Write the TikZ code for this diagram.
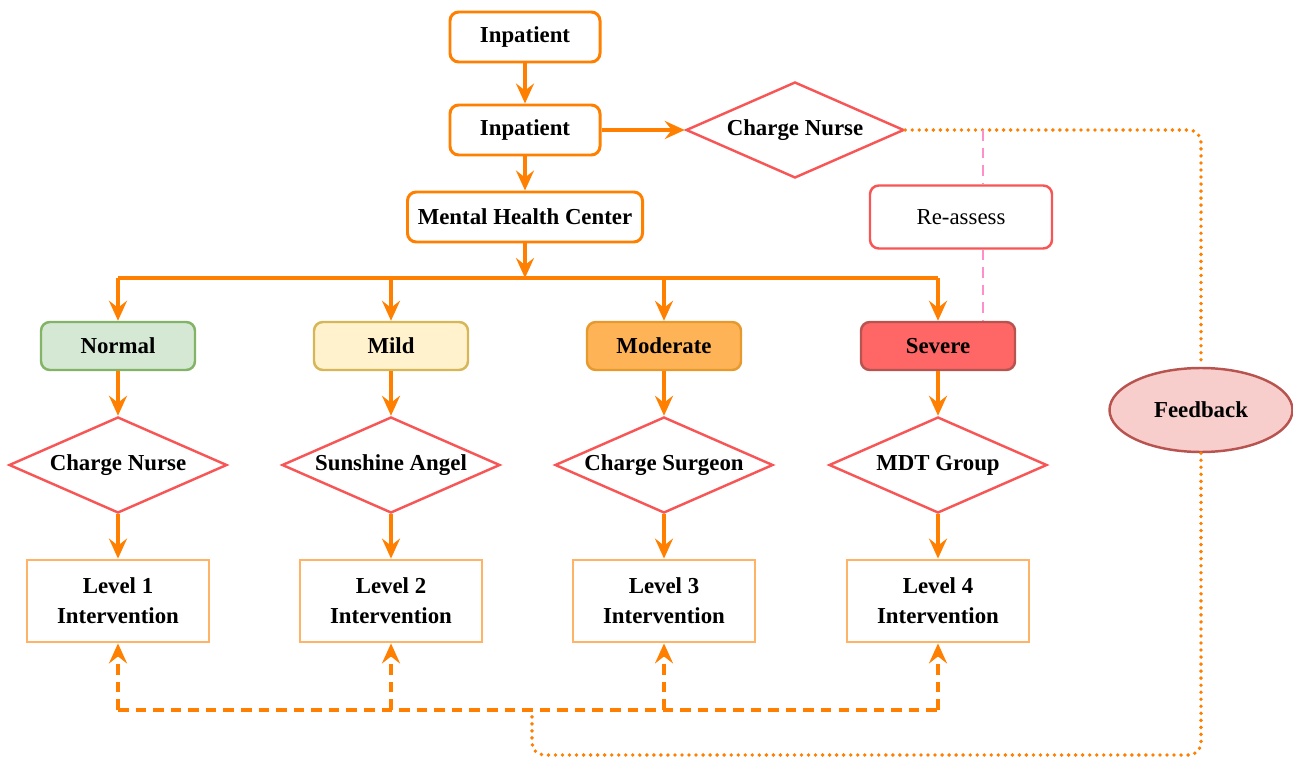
\documentclass[tikz,border=0pt]{standalone}
\usepackage{fontspec}
\setmainfont{Liberation Serif}
\usepackage{xcolor}
\usepackage{tikz}
\usetikzlibrary{arrows.meta,positioning,shapes.geometric}

\definecolor{orng}{HTML}{FF8000}
\definecolor{lvlorng}{HTML}{FFB366}
\definecolor{dred}{HTML}{F85656}
\definecolor{grnfill}{HTML}{D5E8D4}
\definecolor{grnline}{HTML}{82B366}
\definecolor{ylwfill}{HTML}{FFF2CC}
\definecolor{ylwline}{HTML}{D6B656}
\definecolor{modfill}{HTML}{FFB357}
\definecolor{modline}{HTML}{E69A2E}
\definecolor{sevfill}{HTML}{FF6666}
\definecolor{sevline}{HTML}{B85450}
\definecolor{fbfill}{HTML}{F8CECC}
\definecolor{pnkline}{HTML}{FF8FC8}

\begin{document}
\begin{tikzpicture}[
  font=\fontsize{13}{17}\selectfont\bfseries,
  box/.style={draw=orng,line width=1.7pt,rounded corners=5pt,align=center,minimum height=1cm,inner sep=2pt},
  sev/.style={draw,line width=1.4pt,rounded corners=5pt,align=center,minimum width=3.08cm,minimum height=0.96cm},
  dec/.style={diamond,aspect=2.2,draw=dred,line width=1.4pt,align=center,inner sep=0pt,minimum width=4.36cm,minimum height=1.92cm},
  lvl/.style={draw=lvlorng,line width=1.6pt,align=center,minimum width=3.64cm,minimum height=1.64cm},
  arr/.style={-{Stealth[length=4mm,width=3.6mm,inset=1.4mm]},draw=orng,line width=2pt},
  ln/.style={draw=orng,line width=2pt},
  ev/.style={arr,dash pattern=on 6pt off 4pt},
  dsh/.style={ln,dash pattern=on 6pt off 4pt},
  dot/.style={draw=orng,line width=2.2pt,line cap=round,dash pattern=on 0pt off 4pt,rounded corners=7pt},
  pnk/.style={draw=pnkline,line width=1.4pt,dash pattern=on 6pt off 4pt}]
\useasboundingbox (0,0) rectangle (25.86,-15.16);
% top of the chart
\node[box,minimum width=3cm]   (in1) at (10.5,-0.74)  {Inpatient};
\node[box,minimum width=3cm]   (in2) at (10.5,-2.6)   {Inpatient};
\node[box,minimum width=4.7cm] (mhc) at (10.5,-4.34)  {Mental Health Center};
\node[dec] (cn)  at (15.9,-2.6) {Charge Nurse};
\node[box,draw=dred,line width=1.4pt,minimum width=3.64cm,minimum height=1.26cm] (re) at (19.22,-4.34) {\mdseries Re-assess};
\node[ellipse,draw=sevline,fill=fbfill,line width=1.4pt,minimum width=3.66cm,minimum height=1.68cm] (fbk) at (24.02,-8.2) {Feedback};
% severity levels
\node[sev,draw=grnline,fill=grnfill] (nor) at (2.36,-6.92)  {Normal};
\node[sev,draw=ylwline,fill=ylwfill] (mld) at (7.82,-6.92)  {Mild};
\node[sev,draw=modline,fill=modfill] (mod) at (13.28,-6.92) {Moderate};
\node[sev,draw=sevline,fill=sevfill] (svr) at (18.76,-6.92) {Severe};
% responsible staff
\node[dec] (d1) at (2.36,-9.3)  {Charge Nurse};
\node[dec] (d2) at (7.82,-9.3)  {Sunshine Angel};
\node[dec] (d3) at (13.28,-9.3) {Charge Surgeon};
\node[dec] (d4) at (18.76,-9.3) {MDT Group};
% interventions
\node[lvl] (l1) at (2.36,-12.02)  {Level 1\\Intervention};
\node[lvl] (l2) at (7.82,-12.02)  {Level 2\\Intervention};
\node[lvl] (l3) at (13.28,-12.02) {Level 3\\Intervention};
\node[lvl] (l4) at (18.76,-12.02) {Level 4\\Intervention};
\coordinate (fork) at (10.5,-5.56);
\coordinate (dl)   at (2.36,-14.2);
\coordinate (dr)   at (18.76,-14.2);
\coordinate (join) at (10.64,-14.2);
\coordinate (bot)  at (10.64,-15.1);
\coordinate (pk)   at (19.66,-2.6);
% main flow (solid)
\draw[arr] (in1) -- (in2);
\draw[arr] (in2) -- (mhc);
\draw[arr] (in2) -- (cn);
\draw[arr] (mhc) -- (fork);
\draw[ln] (fork -| nor) -- (fork -| svr);
\draw[arr] (fork -| nor) -- (nor);
\draw[arr] (fork -| mld) -- (mld);
\draw[arr] (fork -| mod) -- (mod);
\draw[arr] (fork -| svr) -- (svr);
\draw[arr] (nor) -- (d1);
\draw[arr] (mld) -- (d2);
\draw[arr] (mod) -- (d3);
\draw[arr] (svr) -- (d4);
\draw[arr] (d1) -- (l1);
\draw[arr] (d2) -- (l2);
\draw[arr] (d3) -- (l3);
\draw[arr] (d4) -- (l4);
% return path (dashed) below the interventions
\draw[dsh] (dl) -- (dr);
\draw[ev] (dl) -- (l1);
\draw[ev] (dl -| l2) -- (l2);
\draw[ev] (dl -| l3) -- (l3);
\draw[ev] (dr) -- (l4);
% feedback loop (dotted) and re-assessment (pink)
\draw[dot] (cn.east) -| (fbk.north);
\draw[dot] (fbk.south) |- (bot) -- (join);
\draw[pnk] (pk) -- (pk |- re.north);
\draw[pnk] (pk |- re.south) -- (pk |- svr.north);
\end{tikzpicture}
\end{document}
